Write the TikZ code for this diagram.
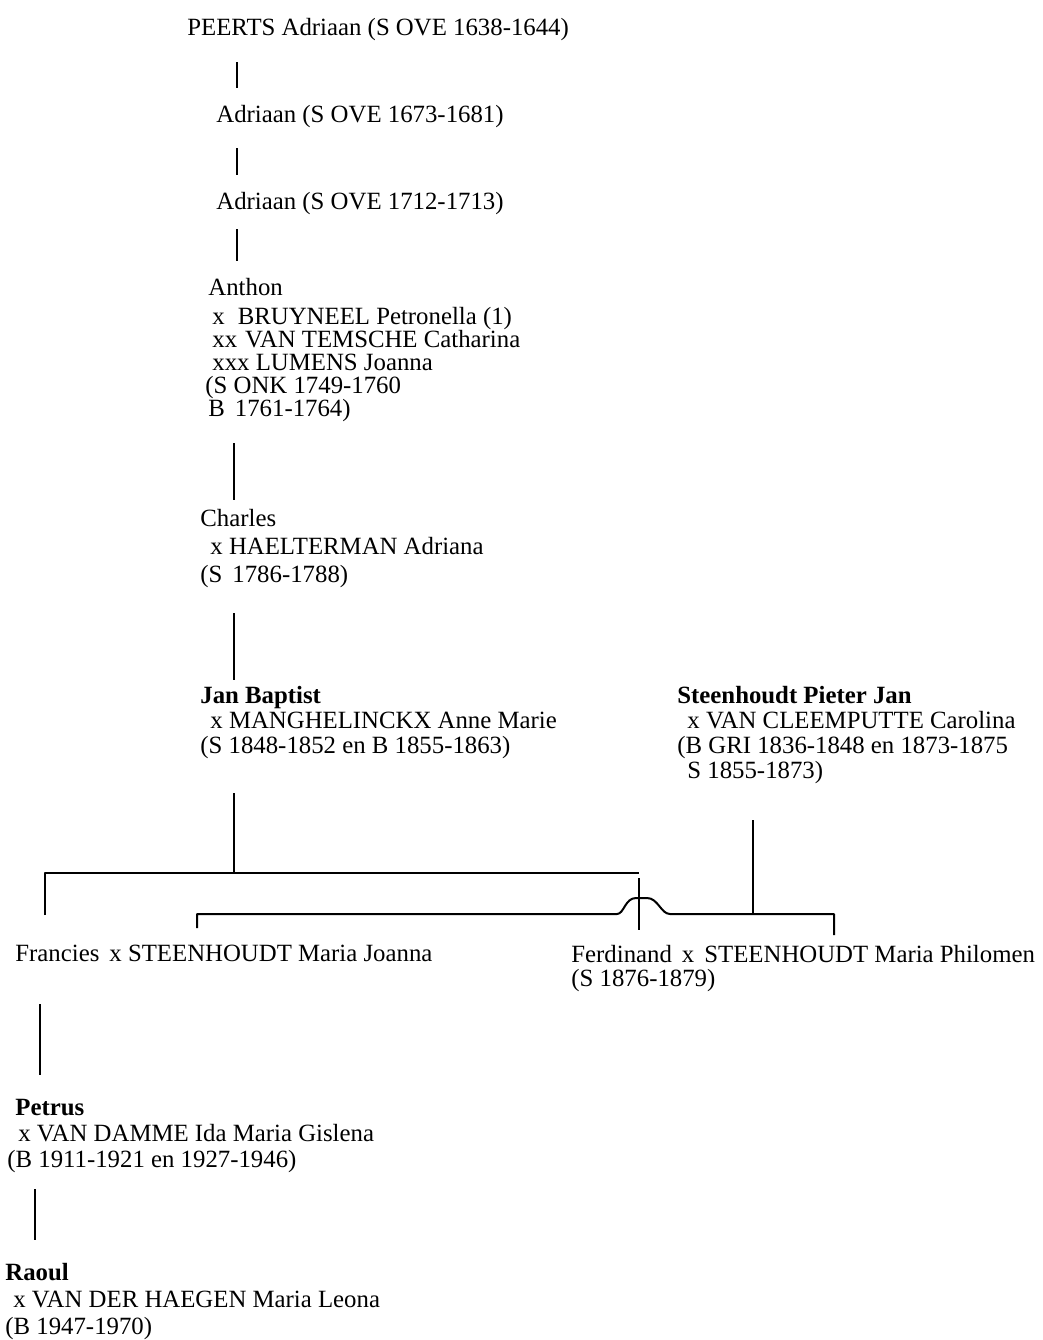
\documentclass[tikz,border=0pt]{standalone}
\usepackage{fontspec}
\setmainfont{Liberation Serif}
\tikzset{
	pers/.style={anchor=north west, inner sep=0pt, align=left, font=\fontsize{12.4}{#1}\selectfont},
	pers/.default=12.5pt,
	lijn/.style={line width=1pt}
}
\begin{document}
\begin{tikzpicture}[x=0.5pt, y=-0.5pt, line join=round]
	\useasboundingbox (0,0) rectangle (1043,1340);
	% kolommen van de afstammingslijnen
	\coordinate (k1) at (237,0); \coordinate (k2) at (234,0);
	\coordinate (k3) at (40,0);  \coordinate (k4) at (35,0);
	\coordinate (k5) at (753,0);
	% haken onder Jan Baptist
	\coordinate (b1l) at (45,873);  \coordinate (b1r) at (639,873);
	\coordinate (b2l) at (197,914); \coordinate (b2r) at (834,914);
	
	\node[pers] (peerts) at (187,18) {PEERTS Adriaan (S OVE 1638-1644)};
	\node[pers] (adr1) at (216,105) {Adriaan (S OVE 1673-1681)};
	\node[pers] (adr2) at (216,192) {Adriaan (S OVE 1712-1713)};
	\node[pers=11.5pt] (anthon) at (205,278) {\hspace{1.5pt}Anthon\\[3pt]
		\hspace{3.5pt}x\hspace{6.5pt}BRUYNEEL Petronella (1)\\
		\hspace{3.5pt}xx\hspace{4pt}VAN TEMSCHE Catharina\\
		\hspace{3.5pt}xxx LUMENS Joanna\\
		(S ONK 1749-1760\\
		\hspace{1.5pt}B\hspace{5pt}1761-1764)};
	\node[pers=14pt] (charles) at (200,509) {Charles\\
		\hspace{5pt}x HAELTERMAN Adriana\\
		(S\hspace{5pt}1786-1788)};
	\node[pers] (jan) at (200,686) {\textbf{Jan Baptist}\\
		\hspace{5pt}x MANGHELINCKX Anne Marie\\
		(S 1848-1852 en B 1855-1863)};
	\node[pers] (steen) at (677,686) {\textbf{Steenhoudt Pieter Jan}\\
		\hspace{5pt}x VAN CLEEMPUTTE Carolina\\
		(B GRI 1836-1848 en 1873-1875\\
		\hspace{5pt}S 1855-1873)};
	\node[pers] (francies) at (15,945) {Francies\hspace{5pt}x STEENHOUDT Maria Joanna};
	\node[pers=12pt] (ferdinand) at (571,945) {Ferdinand\hspace{5pt}x\hspace{5pt}STEENHOUDT Maria Philomen\\
		(S 1876-1879)};
	\node[pers=13pt] (petrus) at (7,1099) {\hspace{4pt}\textbf{Petrus}\\
		\hspace{5.5pt}x VAN DAMME Ida Maria Gislena\\
		(B 1911-1921 en 1927-1946)};
	\node[pers=13.5pt] (raoul) at (5,1263) {\textbf{Raoul}\\
		\hspace{4pt}x VAN DER HAEGEN Maria Leona\\
		(B 1947-1970)};
	
	\draw[lijn, shorten <=10.5pt, shorten >=8.5pt] (peerts.south -| k1) -- (adr1.north -| k1);
	\draw[lijn, shorten <=10pt, shorten >=8.5pt] (adr1.south -| k1) -- (adr2.north -| k1);
	\draw[lijn, shorten <=7pt, shorten >=8.5pt] (adr2.south -| k1) -- (anthon.north -| k1);
	\draw[lijn, shorten <=10.5pt, shorten >=4.5pt] (anthon.south -| k2) -- (charles.north -| k2);
	\draw[lijn, shorten <=12.5pt, shorten >=3pt] (charles.south -| k2) -- (jan.north -| k2);
	\draw[lijn, shorten <=17pt] (jan.south -| k2) -- (b1l -| k2);
	\draw[lijn, shorten <=18pt] (steen.south -| k5) -- (b2l -| k5);
	% kinderen van Jan Baptist
	\draw[lijn, shorten <=15pt] (francies.north -| b1l) -- (b1l) -- (b1r);
	\draw[lijn, shorten <=2.5pt, shorten >=7.5pt] (b1r) -- (ferdinand.north -| b1r);
	% echtgenotes Steenhoudt, met sprong over de lijn
	\draw[lijn, shorten <=8.5pt, shorten >=5pt] (francies.north -| b2l) -- (b2l) -- (617,914)
		.. controls (624,914) and (625,898) .. (636,898) -- (647,898)
		.. controls (658,898) and (661,914) .. (670,914) -- (b2r) -- (ferdinand.north -| b2r);
	\draw[lijn, shorten <=21pt, shorten >=12pt] (francies.south -| k3) -- (petrus.north -| k3);
	\draw[lijn, shorten <=8pt, shorten >=11.5pt] (petrus.south -| k4) -- (raoul.north -| k4);
\end{tikzpicture}
\end{document}
